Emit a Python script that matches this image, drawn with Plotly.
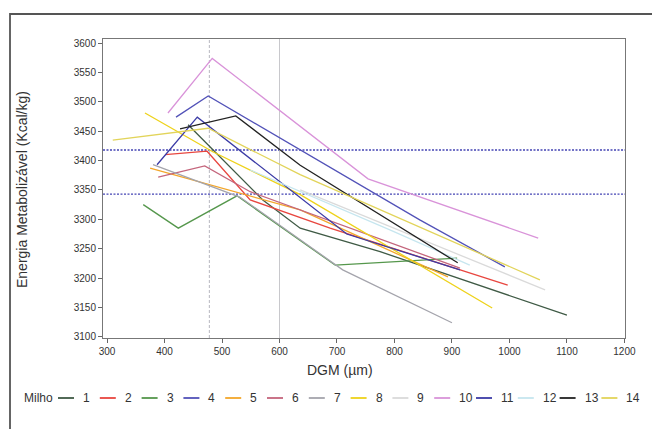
import plotly.graph_objects as go

# ---- data: DGM (µm) vs metabolizable energy (kcal/kg) for 14 maize samples ----
series_names = [str(i) for i in range(1, 15)]
series_colors = [
    "#3f5a45", "#e8463f", "#55974c", "#5252b8", "#f3a62a", "#c4657c", "#a4a4ac",
    "#eed21a", "#dadada", "#d993d9", "#3b3ba6", "#c6e6ef", "#222222", "#e2d45a",
]

dgm_01 = [441, 571, 636, 775, 1100]
em_01 = [3461, 3333, 3285, 3245, 3137]
dgm_02 = [401, 474, 549, 688, 997]
em_02 = [3410, 3416, 3333, 3285, 3188]
dgm_03 = [363, 424, 526, 636, 697, 909]
em_03 = [3325, 3285, 3340, 3265, 3222, 3234]
dgm_04 = [420, 476, 844, 992]
em_04 = [3474, 3510, 3299, 3219]
dgm_05 = [375, 479, 636, 893]
em_05 = [3387, 3359, 3316, 3202]
dgm_06 = [389, 470, 549, 914]
em_06 = [3372, 3391, 3347, 3217]
dgm_07 = [380, 531, 710, 900]
em_07 = [3393, 3338, 3214, 3124]
dgm_08 = [366, 484, 636, 970]
em_08 = [3481, 3415, 3342, 3149]
dgm_09 = [636, 1062]
em_09 = [3350, 3180]
dgm_10 = [406, 483, 754, 1050]
em_10 = [3481, 3574, 3369, 3268]
dgm_11 = [387, 457, 717, 914]
em_11 = [3393, 3474, 3275, 3214]
dgm_12 = [549, 792, 931]
em_12 = [3384, 3282, 3222]
dgm_13 = [427, 524, 636, 910]
em_13 = [3454, 3476, 3392, 3226]
dgm_14 = [310, 476, 636, 1053]
em_14 = [3435, 3455, 3376, 3197]

series_x = [dgm_01, dgm_02, dgm_03, dgm_04, dgm_05, dgm_06, dgm_07,
            dgm_08, dgm_09, dgm_10, dgm_11, dgm_12, dgm_13, dgm_14]
series_y = [em_01, em_02, em_03, em_04, em_05, em_06, em_07,
            em_08, em_09, em_10, em_11, em_12, em_13, em_14]

# reference levels
ref_energy = [3418, 3343]
ref_dgm_dashed = 478
ref_dgm_solid = 600

x_ticks = list(range(300, 1201, 100))
y_ticks = list(range(3100, 3601, 50))

# ---- layout geometry (pixels) ----
W, H = 652, 429
ML, MR, MT, MB = 103, 27, 39, 91
PW, PH = W - ML - MR, H - MT - MB


def px(x):
    return (x - ML) / PW


def py(y):
    return (H - MB - y) / PH


FONT = "Liberation Sans, Arial, sans-serif"

fig = go.Figure()
for name, color, xs, ys in zip(series_names, series_colors, series_x, series_y):
    fig.add_trace(go.Scatter(
        x=xs, y=ys, mode="lines", name=name,
        line=dict(color=color, width=1.3), showlegend=False,
    ))

shapes = []
for level in ref_energy:
    shapes.append(dict(type="line", xref="paper", x0=0, x1=1, yref="y",
                       y0=level, y1=level, layer="below",
                       line=dict(color="#4444b4", width=1.3, dash="2px,1.5px")))
shapes.append(dict(type="line", xref="x", x0=ref_dgm_dashed, x1=ref_dgm_dashed,
                   yref="paper", y0=0, y1=1, layer="below",
                   line=dict(color="#b8b8c0", width=1, dash="3px,2px")))
shapes.append(dict(type="line", xref="x", x0=ref_dgm_solid, x1=ref_dgm_solid,
                   yref="paper", y0=0, y1=1, layer="below",
                   line=dict(color="#c8c8cc", width=1)))

# outer frame (top and left edges)
shapes.append(dict(type="path", xref="paper", yref="paper",
                   path=f"M {px(10)},{py(H + 10)} L {px(10)},{py(14)} L {px(W + 10)},{py(14)}",
                   line=dict(color="#555555", width=1.8)))

annotations = [
    dict(text="DGM (µm)", xref="paper", yref="paper", x=px(340), y=py(370),
         showarrow=False, font=dict(family=FONT, size=14, color="#333333"),
         xanchor="center", yanchor="middle"),
    dict(text="Energia Metabolizável (Kcal/kg)", xref="paper", yref="paper",
         x=px(22), y=py(190), textangle=-90, showarrow=False,
         font=dict(family=FONT, size=14, color="#333333"),
         xanchor="center", yanchor="middle"),
    dict(text="Milho", xref="paper", yref="paper", x=px(22), y=py(398),
         showarrow=False, font=dict(family=FONT, size=12, color="#333333"),
         xanchor="left", yanchor="middle"),
]

# single-row legend: swatch + label for each sample
leg_x0, leg_step, leg_y = 58, 41.8, 398
for i, (name, color) in enumerate(zip(series_names, series_colors)):
    sx = leg_x0 + leg_step * i
    shapes.append(dict(type="line", xref="paper", yref="paper",
                       x0=px(sx), x1=px(sx + 16), y0=py(leg_y), y1=py(leg_y),
                       line=dict(color=color, width=1.8)))
    annotations.append(dict(text=name, xref="paper", yref="paper",
                            x=px(sx + 23), y=py(leg_y), showarrow=False,
                            font=dict(family=FONT, size=12, color="#333333"),
                            xanchor="left", yanchor="middle"))

fig.update_layout(
    width=W, height=H,
    margin=dict(l=ML, r=MR, t=MT, b=MB, pad=0),
    paper_bgcolor="white", plot_bgcolor="white",
    showlegend=False,
    shapes=shapes, annotations=annotations,
    xaxis=dict(range=[293, 1201], tickvals=x_ticks, ticks="outside", ticklen=4,
               tickcolor="#666666", showgrid=False, zeroline=False,
               showline=True, linecolor="#777777", linewidth=1, mirror=True,
               tickfont=dict(family=FONT, size=10, color="#333333")),
    yaxis=dict(range=[3098, 3607], tickvals=y_ticks, ticks="outside", ticklen=4,
               tickcolor="#666666", showgrid=False, zeroline=False,
               showline=True, linecolor="#777777", linewidth=1, mirror=True,
               tickfont=dict(family=FONT, size=10, color="#333333")),
)

fig.write_html("out.html")
